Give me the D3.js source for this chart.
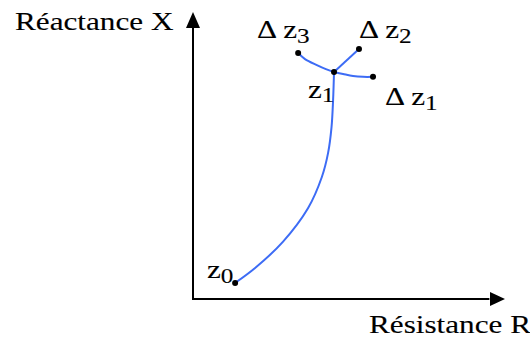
<!DOCTYPE html>
<html><head><meta charset="utf-8">
<script src="https://cdn.jsdelivr.net/npm/d3@7"></script>
<style>body{margin:0;background:#fff}svg{display:block}</style>
</head><body>
<svg id="c" width="530" height="338"></svg>
<script>
// Data (arbitrary units: R horizontal, X vertical, 0..100)
const mainPathR = [13.5, 19.9, 28.8, 36.9, 41.3, 43.3, 44.4, 44.9, 45.2];
const mainPathX = [5.6, 10.8, 19.9, 31.7, 42.5, 50.9, 59.9, 69.3, 79.1];
const dz3R = [45.2, 42.6, 39.7, 35.9, 33.7];
const dz3X = [79.1, 80.1, 81.5, 83.6, 85.7];
const dz2R = [45.2, 53.2];
const dz2X = [79.1, 87.1];
const dz1R = [45.2, 48.1, 51.3, 54.5, 57.7];
const dz1X = [79.1, 78.4, 77.7, 77.4, 77.4];
const pointNames = ["z0", "z1", "dz3", "dz2", "dz1"];
const pointR = [13.5, 45.2, 33.7, 53.2, 57.7];
const pointX = [5.6, 79.1, 85.7, 87.1, 77.4];
const xAxisLabel = "Résistance R";
const yAxisLabel = "Réactance X";

const svg = d3.select("#c");
const x = d3.scaleLinear().domain([0, 100]).range([193, 505]);
const y = d3.scaleLinear().domain([0, 100]).range([299, 12]);
const blue = "#3d6cf5";
const font = "'Liberation Serif','Times New Roman',serif";

// axes
svg.append("line").attr("x1", x(0)).attr("y1", y(0)).attr("x2", x(0)).attr("y2", y(95))
  .attr("stroke", "#000").attr("stroke-width", 2);
svg.append("line").attr("x1", x(0) - 1).attr("y1", y(0)).attr("x2", x(95)).attr("y2", y(0))
  .attr("stroke", "#000").attr("stroke-width", 2);
svg.append("path").attr("d", `M${x(0)},${y(100)} L${x(0)-7},${y(100)+16} L${x(0)+7},${y(100)+16} Z`).attr("fill", "#000");
svg.append("path").attr("d", `M${x(100)},${y(0)} L${x(100)-15},${y(0)-7} L${x(100)-15},${y(0)+7} Z`).attr("fill", "#000");

const line = d3.line().x(d => x(d[0])).y(d => y(d[1])).curve(d3.curveCatmullRom);
function drawPath(rs, xs) {
  svg.append("path").attr("d", line(d3.zip(rs, xs)))
    .attr("fill", "none").attr("stroke", blue).attr("stroke-width", 2);
}
drawPath(mainPathR, mainPathX);
drawPath(dz3R, dz3X);
drawPath(dz2R, dz2X);
drawPath(dz1R, dz1X);

svg.selectAll("circle.pt").data(d3.zip(pointR, pointX)).enter().append("circle")
  .attr("cx", d => x(d[0])).attr("cy", d => y(d[1])).attr("r", 3).attr("fill", "#000");

function label(px, py, parts) {
  const g = svg.append("g").attr("transform", `translate(${px},${py}) scale(1.2,1)`);
  const t = g.append("text").attr("font-family", font).attr("font-size", 26)
    .attr("fill", "#000").attr("stroke", "#000").attr("stroke-width", 0.12);
  parts.forEach(p => {
    const ts = t.append("tspan").text(p.t);
    if (p.sub) ts.attr("font-size", 21).attr("dy", p.dy || 5);
  });
}
label(15, 30, [{t: yAxisLabel}]);
label(369, 333, [{t: xAxisLabel}]);
label(257, 38, [{t: "Δ z"}, {t: "3", sub: true}]);
label(359, 38, [{t: "Δ z"}, {t: "2", sub: true}]);
label(385, 105, [{t: "Δ z"}, {t: "1", sub: true}]);
label(308, 98, [{t: "z"}, {t: "1", sub: true, dy: 4}]);
label(207, 278, [{t: "z"}, {t: "0", sub: true}]);
</script>
</body></html>
